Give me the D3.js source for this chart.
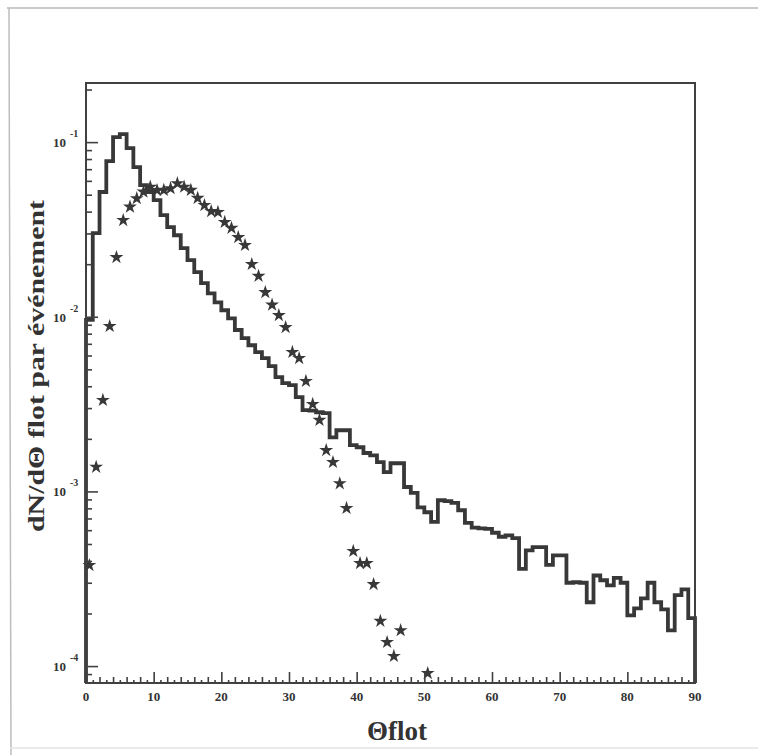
<!DOCTYPE html>
<html>
<head>
<meta charset="utf-8">
<script src="https://cdn.jsdelivr.net/npm/d3@7"></script>
<style>
  html, body { margin: 0; padding: 0; background: #fff; }
  svg { display: block; }
</style>
</head>
<body>
<svg id="chart" width="758" height="755"></svg>
<script>
// ---- data ----
// histogram: one value per 1-degree bin, bins [0,1) ... [89,90)
const histValues = [
  0.0096, 0.0301, 0.0518, 0.0778, 0.1069, 0.1112, 0.0924, 0.0719, 0.0567, 0.0518,
  0.0466, 0.0382, 0.0326, 0.0293, 0.0247, 0.0211, 0.0180, 0.0156, 0.0136, 0.0121,
  0.0109, 0.0098, 0.0084, 0.00754, 0.00687, 0.00627, 0.00579, 0.00521, 0.00451, 0.00417,
  0.00406, 0.00347, 0.00292, 0.00290, 0.00284, 0.00281, 0.00204, 0.00224, 0.00224, 0.00184,
  0.00179, 0.00166, 0.00161, 0.00147, 0.00129, 0.00145, 0.00145, 0.00106, 0.00098, 0.00081,
  0.00076, 0.00067, 0.00089, 0.00088, 0.00086, 0.00078, 0.00066, 0.00062, 0.000615, 0.00061,
  0.00058, 0.00055, 0.00056, 0.00054, 0.00036, 0.00046, 0.00048, 0.00048, 0.00038, 0.00043,
  0.00043, 0.00030, 0.000302, 0.00030, 0.000232, 0.00033, 0.00031, 0.00029, 0.00032, 0.00030,
  0.000195, 0.000214, 0.000244, 0.00030, 0.000232, 0.000211, 0.00016, 0.000255, 0.000275, 0.000188
];
// stars (second distribution): theta and value
const starTheta = [
  0.5, 1.5, 2.5, 3.5, 4.5, 5.5, 6.5, 7.5, 8.5, 9.5,
  10.5, 11.5, 12.5, 13.5, 14.5, 15.5, 16.5, 17.5, 18.5, 19.5,
  20.5, 21.5, 22.5, 23.5, 24.5, 25.5, 26.5, 27.5, 28.5, 29.5,
  30.5, 31.5, 32.5, 33.5, 34.5, 35.5, 36.5, 37.5, 38.5, 39.5,
  40.5, 41.5, 42.5, 43.5, 44.5, 45.5, 46.5, 50.5
];
const starValues = [
  0.000378, 0.00138, 0.00333, 0.00883, 0.0219, 0.0357, 0.0426, 0.0476, 0.0519, 0.0554,
  0.0530, 0.0531, 0.0543, 0.0580, 0.0554, 0.0531, 0.0478, 0.0435, 0.0402, 0.0397,
  0.0348, 0.0322, 0.0285, 0.0257, 0.0200, 0.0171, 0.0138, 0.0117, 0.0102, 0.0087,
  0.00627, 0.00579, 0.00428, 0.00316, 0.00256, 0.00172, 0.00147, 0.00111, 0.000802, 0.000455,
  0.000388, 0.000388, 0.000294, 0.000181, 0.000137, 0.000114, 0.00016, 0.000091
];
const xTickValues = [0, 10, 20, 30, 40, 50, 60, 70, 80, 90];
const yTickValues = [1e-4, 1e-3, 1e-2, 1e-1];
const yTickExponents = ["-4", "-3", "-2", "-1"];
const xLabel = "\u0398flot";
const yLabel = "dN/d\u0398 flot par \u00e9v\u00e9nement";

// ---- layout ----
const svg = d3.select("#chart");
const L = 86, R = 695, T = 83, B = 683;
const ink = "#383838";
const serif = "'Liberation Serif', 'Times New Roman', serif";

const x = d3.scaleLinear().domain([0, 90]).range([L, R]);
const y = d3.scaleLog().domain([8e-5, 0.218]).range([B, T]);

// outer scanned page border
svg.append("line").attr("x1", 7).attr("x2", 758).attr("y1", 8).attr("y2", 8)
  .attr("stroke", "#b8b8b8").attr("stroke-width", 1.5);
svg.append("line").attr("x1", 9).attr("x2", 11).attr("y1", 8).attr("y2", 755)
  .attr("stroke", "#bdbdbd").attr("stroke-width", 1.5);
svg.append("line").attr("x1", 10).attr("x2", 758).attr("y1", 748).attr("y2", 748)
  .attr("stroke", "#e4e4e4").attr("stroke-width", 1.5);

// histogram step path
const pts = [[0, null]];
histValues.forEach((v, i) => { pts.push([i, v]); pts.push([i + 1, v]); });
pts.push([90, null]);
const line = d3.line()
  .x(d => x(d[0]))
  .y(d => d[1] === null ? B : y(d[1]));
svg.append("path").attr("d", line(pts))
  .attr("fill", "none").attr("stroke", ink)
  .attr("stroke-width", 3.8).attr("stroke-linejoin", "miter");

// stars
const star = d3.symbol().type(d3.symbolStar).size(60);
svg.append("g").selectAll("path")
  .data(starTheta.map((t, i) => [t, starValues[i]]))
  .join("path")
  .attr("d", star)
  .attr("transform", d => `translate(${x(d[0])},${y(d[1])})`)
  .attr("fill", ink);

// frame
svg.append("rect").attr("x", L).attr("y", T).attr("width", R - L).attr("height", B - T)
  .attr("fill", "none").attr("stroke", "#404040").attr("stroke-width", 2);

// y ticks (inside)
const yMinor = [];
[1e-5, 1e-4, 1e-3, 1e-2, 1e-1].forEach(d => {
  for (let k = 2; k <= 9; k++) {
    const v = d * k;
    if (v > 8e-5 && v < 0.218) yMinor.push(v);
  }
});
function styleAxis(g) {
  g.select(".domain").remove();
  g.selectAll("line").attr("stroke", "#404040").attr("stroke-width", 1.6);
}
svg.append("g").attr("transform", `translate(${L},0)`)
  .call(d3.axisRight(y).tickValues(yTickValues).tickSize(12).tickFormat(""))
  .call(styleAxis);
svg.append("g").attr("transform", `translate(${L},0)`)
  .call(d3.axisRight(y).tickValues(yMinor).tickSize(6).tickFormat(""))
  .call(styleAxis);

// x ticks (inside)
const xMinor = d3.range(2, 90, 2).filter(v => v % 10 !== 0);
const xTiny = d3.range(1, 90, 2);
svg.append("g").attr("transform", `translate(0,${B})`)
  .call(d3.axisTop(x).tickValues(xTickValues).tickSize(11).tickFormat(""))
  .call(styleAxis);
svg.append("g").attr("transform", `translate(0,${B})`)
  .call(d3.axisTop(x).tickValues(xMinor).tickSize(6).tickFormat(""))
  .call(styleAxis);
svg.append("g").attr("transform", `translate(0,${B})`)
  .call(d3.axisTop(x).tickValues(xTiny).tickSize(3).tickFormat(""))
  .call(styleAxis);

// x tick labels
svg.append("g").selectAll("text").data(xTickValues).join("text")
  .attr("x", d => x(d)).attr("y", 701)
  .attr("text-anchor", "middle")
  .attr("font-family", serif).attr("font-weight", "bold").attr("font-size", 13)
  .attr("fill", "#333")
  .text(d => d);

// y tick labels 10^n
const yl = svg.append("g").selectAll("g").data(yTickValues).join("g");
yl.append("text")
  .attr("x", 66).attr("y", d => y(d) + 5)
  .attr("text-anchor", "end")
  .attr("font-family", serif).attr("font-weight", "bold").attr("font-size", 13)
  .attr("fill", "#333")
  .text("10");
yl.append("text")
  .attr("x", 70).attr("y", d => y(d) - 5)
  .attr("text-anchor", "start")
  .attr("font-family", serif).attr("font-weight", "bold").attr("font-size", 10)
  .attr("fill", "#333")
  .text((d, i) => yTickExponents[i]);

// axis titles
svg.append("text")
  .attr("x", 397).attr("y", 740)
  .attr("text-anchor", "middle")
  .attr("font-family", serif).attr("font-weight", "bold").attr("font-size", 27)
  .attr("fill", "#333")
  .text(xLabel);
svg.append("text")
  .attr("transform", "translate(44,366) rotate(-90)")
  .attr("text-anchor", "middle")
  .attr("font-family", serif).attr("font-weight", "bold").attr("font-size", 23)
  .attr("textLength", 332).attr("lengthAdjust", "spacingAndGlyphs")
  .attr("fill", "#333")
  .text(yLabel);
</script>
</body>
</html>
